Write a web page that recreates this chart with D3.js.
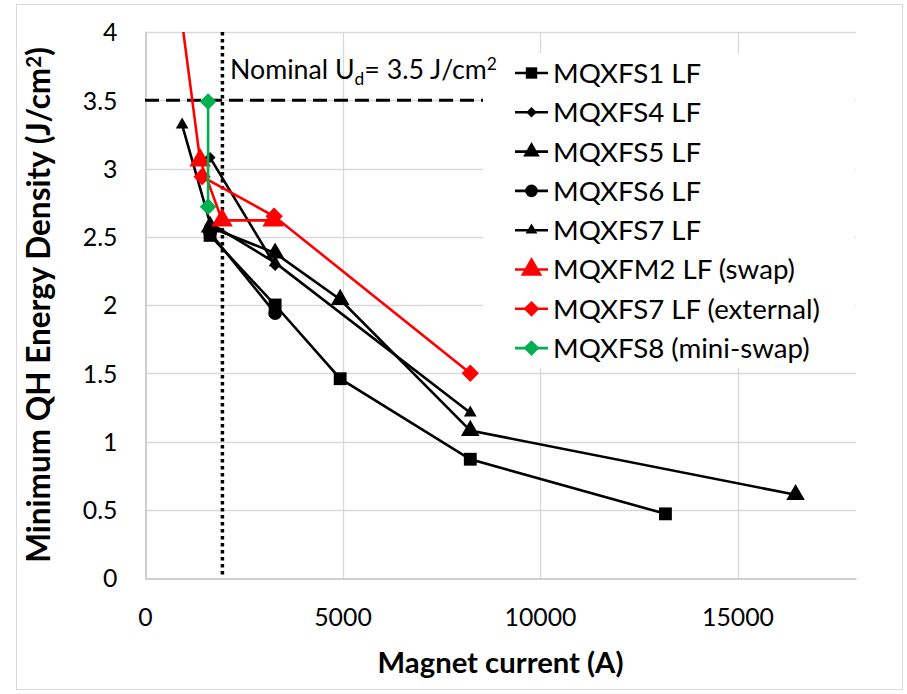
<!DOCTYPE html>
<html>
<head>
<meta charset="utf-8">
<script src="https://cdn.jsdelivr.net/npm/d3@7"></script>
<style>
  body { margin: 0; background: #fff; }
  text { font-family: Lato, "Open Sans", sans-serif; fill: #000; }
</style>
</head>
<body>
<svg width="907" height="694"></svg>
<script>
// series data: magnet current (A) and minimum QH energy density (J/cm2)
const s1Current = [1647, 3294, 4941, 8235, 13176];
const s1Energy  = [2.51, 2.00, 1.46, 0.87, 0.47];
const s4Current = [1647, 3294];
const s4Energy  = [3.08, 2.29];
const s5Current = [1647, 3294, 4941, 8235, 16470];
const s5Energy  = [2.57, 2.38, 2.04, 1.08, 0.61];
const s6Current = [1647, 3294];
const s6Energy  = [2.53, 1.94];
const s7Current = [940, 1647, 3294, 8235];
const s7Energy  = [3.32, 2.60, 2.31, 1.21];
const m2Current = [700, 1395, 1952, 3245];
const m2Energy  = [4.60, 3.06, 2.62, 2.62];
const s7xCurrent = [1445, 3270, 8235];
const s7xEnergy  = [2.94, 2.65, 1.50];
const s8Current = [1597, 1597];
const s8Energy  = [3.49, 2.72];

const names = ["MQXFS1 LF", "MQXFS4 LF", "MQXFS5 LF", "MQXFS6 LF", "MQXFS7 LF",
               "MQXFM2 LF (swap)", "MQXFS7 LF (external)", "MQXFS8 (mini-swap)"];
const xTicks = [0, 5000, 10000, 15000];
const yTicks = [0, 0.5, 1, 1.5, 2, 2.5, 3, 3.5, 4];
const nominalEnergy = 3.5;
const nominalCurrent = 1960;

const svg = d3.select("svg");
const x = d3.scaleLinear().domain([0, 18000]).range([145, 856]);
const y = d3.scaleLinear().domain([0, 4]).range([578, 32]);

// fit a text element to a given width (fonts differ from the original)
function fit(sel, w) {
    const len = sel.node().getComputedTextLength();
    const fs = parseFloat(sel.attr("font-size"));
    sel.attr("font-size", fs * w / len);
    return fs * w / len;
}

// chart border
svg.append("rect")
    .attr("x", 16.5).attr("y", 4.5).attr("width", 886).attr("height", 685)
    .attr("fill", "#fff").attr("stroke", "#d9d9d9");

// gridlines
svg.append("g")
    .selectAll("line").data(yTicks.filter(d => d > 0))
    .join("line")
    .attr("x1", x(0)).attr("x2", x(18000))
    .attr("y1", d => Math.round(y(d)) + 0.5).attr("y2", d => Math.round(y(d)) + 0.5)
    .attr("stroke", "#d9d9d9").attr("stroke-width", 1.3);
svg.append("g")
    .selectAll("line").data(xTicks.filter(d => d > 0))
    .join("line")
    .attr("y1", y(0)).attr("y2", y(4))
    .attr("x1", d => Math.round(x(d)) + 0.5).attr("x2", d => Math.round(x(d)) + 0.5)
    .attr("stroke", "#d9d9d9").attr("stroke-width", 1.3);

// axes
const xAxis = svg.append("g")
    .attr("transform", `translate(0,${Math.round(y(0)) + 0.5})`)
    .call(d3.axisBottom(x).tickValues(xTicks).tickSize(0).tickPadding(30).tickFormat(d3.format("d")));
const yAxis = svg.append("g")
    .attr("transform", `translate(${Math.round(x(0)) + 0.5},0)`)
    .call(d3.axisLeft(y).tickValues(yTicks).tickSize(0).tickPadding(28).tickFormat(d3.format("")));
svg.selectAll(".domain").attr("stroke", "#bfbfbf").attr("stroke-width", 1.5);
svg.selectAll(".tick text").attr("font-family", "Lato").attr("fill", "#000");
xAxis.selectAll("text").attr("font-size", 24);
const tickFs = fit(xAxis.selectAll("text").filter(d => d === 15000), 72);
xAxis.selectAll("text").attr("font-size", tickFs);
yAxis.selectAll("text").attr("font-size", tickFs).attr("dy", "0.36em");

// axis titles
const xt = svg.append("text")
    .attr("x", (x(0) + x(18000)) / 2).attr("y", 673)
    .attr("text-anchor", "middle").attr("font-weight", "bold").attr("font-size", 24)
    .text("Magnet current (A)");
fit(xt, 246);
const yt = svg.append("text")
    .attr("transform", "translate(50,305) rotate(-90)")
    .attr("text-anchor", "middle").attr("font-weight", "bold").attr("font-size", 24);
yt.append("tspan").text("Minimum QH Energy Density (J/cm");
yt.append("tspan").attr("dy", -9).attr("font-size", "0.65em").text("2");
yt.append("tspan").attr("dy", 9).text(")");
fit(yt, 516);

// reference lines
svg.append("line")
    .attr("x1", x(0)).attr("x2", x(18000))
    .attr("y1", y(nominalEnergy)).attr("y2", y(nominalEnergy))
    .attr("stroke", "#000").attr("stroke-width", 3).attr("stroke-dasharray", "14,7");
svg.append("line")
    .attr("x1", x(nominalCurrent)).attr("x2", x(nominalCurrent))
    .attr("y1", y(4)).attr("y2", y(0))
    .attr("stroke", "#000").attr("stroke-width", 3.5).attr("stroke-dasharray", "3.5,3.5");

// series
const diamond = {draw(ctx, size) { const r = Math.sqrt(size) / 2 * Math.SQRT2;
    ctx.moveTo(0, -r); ctx.lineTo(r, 0); ctx.lineTo(0, r); ctx.lineTo(-r, 0); ctx.closePath(); }};
const series = [
    {name: names[0], xs: s1Current, ys: s1Energy, color: "#000", sym: d3.symbolSquare, size: 165, lsize: 130},
    {name: names[1], xs: s4Current, ys: s4Energy, color: "#000", sym: diamond, size: 60, lsize: 55},
    {name: names[2], xs: s5Current, ys: s5Energy, color: "#000", sym: d3.symbolTriangle, size: 150, lsize: 120},
    {name: names[3], xs: s6Current, ys: s6Energy, color: "#000", sym: d3.symbolCircle, size: 150, lsize: 125},
    {name: names[4], xs: s7Current, ys: s7Energy, color: "#000", sym: d3.symbolTriangle, size: 70, lsize: 60},
    {name: names[5], xs: m2Current, ys: m2Energy, color: "#ff0000", sym: d3.symbolTriangle, size: 200, lsize: 200},
    {name: names[6], xs: s7xCurrent, ys: s7xEnergy, color: "#ff0000", sym: diamond, size: 150, lsize: 125},
    {name: names[7], xs: s8Current, ys: s8Energy, color: "#00b050", sym: diamond, size: 140, lsize: 125}
];

svg.append("clipPath").attr("id", "plot")
    .append("rect").attr("x", x(0)).attr("y", y(4)).attr("width", x(18000) - x(0)).attr("height", y(0) - y(4));

const line = d3.line().x(d => x(d[0])).y(d => y(d[1]));
const gSeries = svg.append("g");
series.forEach(s => {
    const pts = s.xs.map((v, i) => [v, s.ys[i]]);
    gSeries.append("path")
        .attr("clip-path", "url(#plot)")
        .attr("d", line(pts))
        .attr("fill", "none").attr("stroke", s.color).attr("stroke-width", 2.6);
    gSeries.selectAll(null).data(pts.filter(p => p[1] <= 4))
        .join("path")
        .attr("transform", p => `translate(${x(p[0])},${y(p[1])})`)
        .attr("d", d3.symbol(s.sym, s.size))
        .attr("fill", s.color);
});

// legend
svg.append("rect")
    .attr("x", 483).attr("y", 53).attr("width", 372).attr("height", 315)
    .attr("fill", "#fff");
const leg = svg.append("g").selectAll("g").data(series).join("g")
    .attr("transform", (d, i) => `translate(0,${73 + i * 39.3})`);
leg.append("line").attr("x1", 515).attr("x2", 548)
    .attr("stroke", d => d.color).attr("stroke-width", 2.6);
leg.append("path").attr("transform", "translate(531.5,0)")
    .attr("d", d => d3.symbol(d.sym, d.lsize)()).attr("fill", d => d.color);
const legText = leg.append("text").attr("x", 553).attr("dy", "0.36em").attr("font-size", 26)
    .text(d => d.name);
const legFs = fit(legText.filter(d => d.name === names[6]), 267);
legText.attr("font-size", legFs);

// annotation (drawn over the legend box)
const ann = svg.append("text").attr("x", 230).attr("y", 79).attr("font-size", 22);
ann.append("tspan").text("Nominal U");
ann.append("tspan").attr("dy", 6).attr("font-size", "0.65em").text("d");
ann.append("tspan").attr("dy", -6).text("= 3.5 J/cm");
ann.append("tspan").attr("dy", -9).attr("font-size", "0.65em").text("2");
fit(ann, 267);
</script>
</body>
</html>
